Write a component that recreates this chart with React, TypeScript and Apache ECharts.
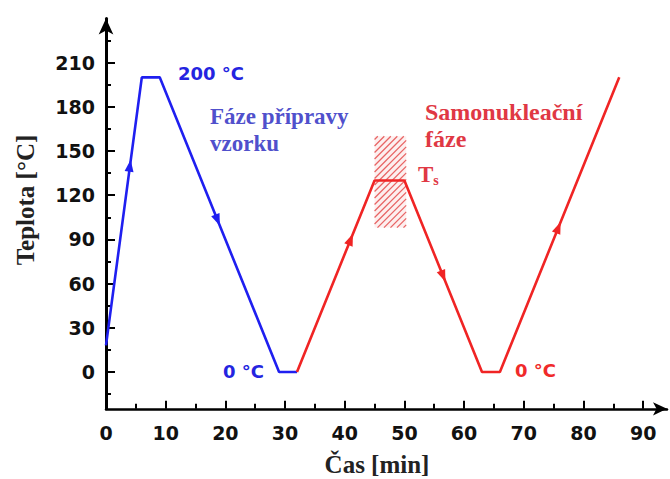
import React, { useEffect, useRef } from "react";
import * as echarts from "echarts";

// ---- data ----
const blueLine: [number, number][] = [[0, 18], [6, 200], [9, 200], [29, 0], [32, 0]];
const redLine: [number, number][] = [[32, 0], [45, 130], [50, 130], [63, 0], [66, 0], [86, 200]];
const blueArrows: [number, number][] = [[4, 140], [18.7, 103]];
const redArrows: [number, number][] = [[41, 90], [56.5, 65], [75.8, 98]];
const hatchRect: [number, number, number, number][] = [[45, 50.3, 98, 160]]; // x0, x1, y0, y1
const yLabels = [0, 30, 60, 90, 120, 150, 180, 210];
const yMinor = [-15, 15, 45, 75, 105, 135, 165, 195, 225];
const xLabels = [0, 10, 20, 30, 40, 50, 60, 70, 80, 90];
const xMinor = [5, 15, 25, 35, 45, 55, 65, 75, 85];

const BLUE = "#1f1ff0";
const RED = "#f02424";
const SANS = "'DejaVu Sans', sans-serif";
const SERIF = "'Liberation Serif', 'Times New Roman', serif";

function arrowSeries(name: string, arrows: [number, number][], line: [number, number][], color: string) {
  return {
    type: "custom",
    name,
    xAxisIndex: 0,
    yAxisIndex: 0,
    z: 5,
    data: arrows,
    renderItem: (params: any, api: any) => {
      const x = api.value(0);
      const y = api.value(1);
      let best = 0;
      let bestD = Infinity;
      for (let i = 0; i < line.length - 1; i++) {
        const [x0, y0] = line[i];
        const [x1, y1] = line[i + 1];
        const lo = Math.min(x0, x1), hi = Math.max(x0, x1);
        if (x < lo - 0.01 || x > hi + 0.01) continue;
        const t = x1 === x0 ? 0 : (x - x0) / (x1 - x0);
        const d = Math.abs(y0 + t * (y1 - y0) - y);
        if (d < bestD) { bestD = d; best = i; }
      }
      const a = api.coord(line[best]);
      const b = api.coord(line[best + 1]);
      const len = Math.hypot(b[0] - a[0], b[1] - a[1]);
      const ux = (b[0] - a[0]) / len, uy = (b[1] - a[1]) / len;
      const c = api.coord([x, y]);
      const L = 12, W = 9;
      const tip = [c[0] + ux * L / 2, c[1] + uy * L / 2];
      const bx = c[0] - ux * L / 2, by = c[1] - uy * L / 2;
      const p1 = [bx - uy * W / 2, by + ux * W / 2];
      const p2 = [bx + uy * W / 2, by - ux * W / 2];
      return {
        type: "polygon",
        shape: { points: [tip, p1, p2] },
        style: { fill: color },
      };
    },
  };
}

export default function App() {
  const ref = useRef<HTMLDivElement>(null);
  useEffect(() => {
    if (!ref.current) return;
    const chart = echarts.init(ref.current, null, { renderer: "svg" });
    const gridTop = 18.4, gridBottom = 70.2, gridLeft = 106, gridRight = 3;
    const yMin = -25, yMax = 240, xMin = 0, xMax = 94;
    const tickLabel = { fontFamily: SANS, fontWeight: "bold", fontSize: 19, color: "#111" };
    const option: any = {
      animation: false,
      backgroundColor: "#fff",
      grid: { left: gridLeft, right: gridRight, top: gridTop, bottom: gridBottom },
      xAxis: [
        {
          type: "value", min: xMin, max: xMax,
          axisLine: { show: true, onZero: false, symbol: ["none", "arrow"], symbolSize: [10, 14], lineStyle: { color: "#000", width: 2.5 } },
          axisTick: { show: true, inside: true, length: 8, lineStyle: { color: "#000", width: 2 }, customValues: xLabels },
          axisLabel: { ...tickLabel, margin: 15, customValues: xLabels },
          splitLine: { show: false },
        },
        {
          type: "value", min: xMin, max: xMax, position: "bottom",
          axisLine: { show: false, onZero: false },
          axisTick: { show: true, inside: true, length: 5, lineStyle: { color: "#000", width: 2 }, customValues: xMinor },
          axisLabel: { show: false },
          splitLine: { show: false },
        },
      ],
      yAxis: [
        {
          type: "value", min: yMin, max: yMax,
          axisLine: { show: true, onZero: false, symbol: ["none", "arrow"], symbolSize: [11, 16], lineStyle: { color: "#000", width: 3 } },
          axisTick: { show: true, inside: true, length: 9, lineStyle: { color: "#000", width: 2 }, customValues: yLabels },
          axisLabel: { ...tickLabel, margin: 11, customValues: yLabels },
          splitLine: { show: false },
        },
        {
          type: "value", min: yMin, max: yMax, position: "left",
          axisLine: { show: false, onZero: false },
          axisTick: { show: true, inside: true, length: 5, lineStyle: { color: "#000", width: 2 }, customValues: yMinor },
          axisLabel: { show: false },
          splitLine: { show: false },
        },
      ],
      series: [
        {
          type: "custom",
          name: "hatch",
          z: 1,
          data: hatchRect,
          renderItem: (params: any, api: any) => {
            const p0 = api.coord([api.value(0), api.value(3)]);
            const p1 = api.coord([api.value(1), api.value(2)]);
            const x0 = p0[0], y0 = p0[1], x1 = p1[0], y1 = p1[1];
            const children: any[] = [];
            const step = 6.5;
            for (let c = x0 + y0 + step / 2; c < x1 + y1; c += step) {
              const xa = Math.max(x0, c - y1);
              const xb = Math.min(x1, c - y0);
              if (xb <= xa) continue;
              children.push({
                type: "line",
                shape: { x1: xa, y1: c - xa, x2: xb, y2: c - xb },
                style: { stroke: "#e86464", lineWidth: 1.3 },
              });
            }
            children.unshift({
              type: "rect",
              shape: { x: x0, y: y0, width: x1 - x0, height: y1 - y0 },
              style: { fill: "rgba(240,120,120,0.12)" },
            });
            return { type: "group", children };
          },
        },
        {
          type: "line", name: "blue", data: blueLine, symbol: "none", z: 3,
          lineStyle: { color: BLUE, width: 2.6 },
        },
        {
          type: "line", name: "red", data: redLine, symbol: "none", z: 3,
          lineStyle: { color: RED, width: 2.6 },
        },
        arrowSeries("blueArrows", blueArrows, blueLine, BLUE),
        arrowSeries("redArrows", redArrows, redLine, RED),
      ],
      graphic: [
        { type: "text", x: 25, y: 200, rotation: Math.PI / 2, style: { text: "Teplota [°C]", font: `bold 25px ${SERIF}`, fill: "#222", align: "center", verticalAlign: "middle" } },
        { type: "text", x: 377, y: 464, style: { text: "Čas [min]", font: `bold 25px ${SERIF}`, fill: "#222", align: "center", verticalAlign: "middle" } },
        { type: "text", x: 178, y: 73, style: { text: "200 °C", font: `bold 18px ${SANS}`, fill: "#2424e0", verticalAlign: "middle" } },
        { type: "text", x: 210, y: 116, style: { text: "Fáze přípravy", font: `bold 23px ${SERIF}`, fill: "#5050cc", verticalAlign: "middle" } },
        { type: "text", x: 210, y: 143, style: { text: "vzorku", font: `bold 23px ${SERIF}`, fill: "#5050cc", verticalAlign: "middle" } },
        { type: "text", x: 223, y: 371, style: { text: "0 °C", font: `bold 18px ${SANS}`, fill: "#2424e0", verticalAlign: "middle" } },
        { type: "text", x: 425, y: 112, style: { text: "Samonukleační", font: `bold 24px ${SERIF}`, fill: "#e03844", verticalAlign: "middle" } },
        { type: "text", x: 425, y: 139, style: { text: "fáze", font: `bold 24px ${SERIF}`, fill: "#e03844", verticalAlign: "middle" } },
        {
          type: "text", x: 418, y: 174,
          style: {
            text: "T{s|s}", font: `bold 23px ${SERIF}`, fill: "#e03844", verticalAlign: "middle",
            rich: { s: { font: `bold 14px ${SERIF}`, fill: "#e03844", padding: [12, 0, 0, 0] } },
          },
        },
        { type: "text", x: 515, y: 370, style: { text: "0 °C", font: `bold 18px ${SANS}`, fill: "#f02a2a", verticalAlign: "middle" } },
      ],
    };
    chart.setOption(option);
    return () => chart.dispose();
  }, []);
  return <div ref={ref} style={{ width: 670, height: 479, position: "absolute", left: 0, top: 0 }} />;
}
